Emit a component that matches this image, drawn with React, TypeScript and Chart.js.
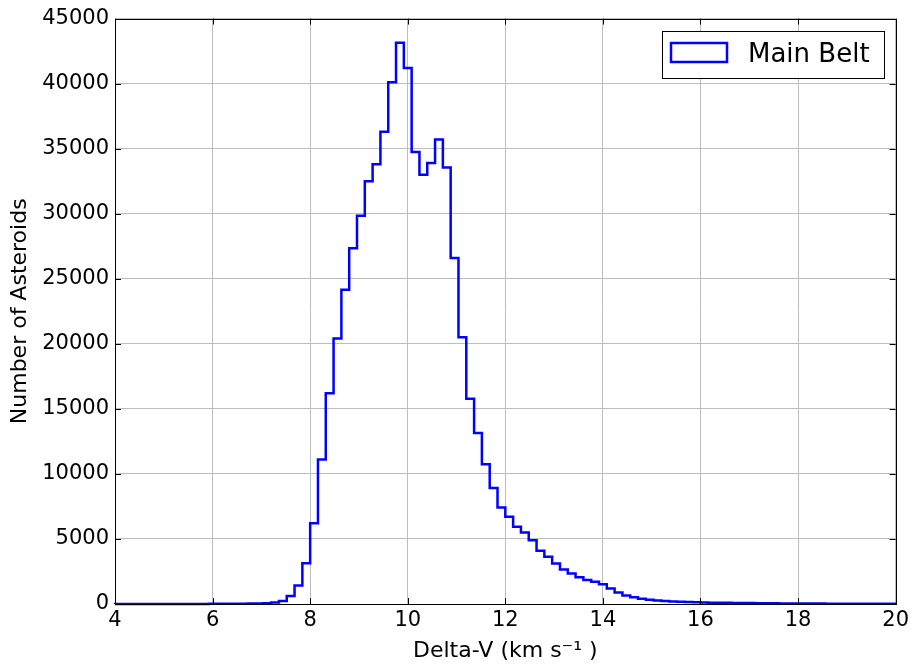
import { useEffect, useRef } from "react";
import { Chart, registerables } from "chart.js";

Chart.register(...registerables);

// Histogram range and per-bin counts (100 bins from 4 to 20 km/s)
const X_MIN = 4;
const X_MAX = 20;
const counts = [
  2, 2, 3, 3, 4, 4, 5, 5, 6, 7, 8,
  9, 10, 12, 15, 18, 22, 30,
  40, 60, 120, 230, 620, 1430, 3140, 6200, 11100, 16200,
  20400, 24150, 27350, 29850, 32500, 33800, 36300, 40100, 43150, 41200,
  34750, 33000, 33900, 35700, 33550, 26600, 20500, 15770, 13140, 10740,
  8920, 7410, 6700, 5930, 5500, 4910, 4090, 3630, 3120, 2660,
  2350, 2050, 1840, 1710, 1520, 1200, 880, 650, 520, 400,
  330, 270, 230, 200, 180, 160, 140, 120, 105, 95,
  88, 80, 74, 68, 62, 57, 52, 46, 42, 38,
  35, 32, 29, 27, 24, 22, 20, 18, 16, 14,
  12, 10,
];
const xTicks = [4, 6, 8, 10, 12, 14, 16, 18, 20];
const yTicks = [0, 5000, 10000, 15000, 20000, 25000, 30000, 35000, 40000, 45000];
const seriesLabel = "Main Belt";
const xTitle = "Delta-V (km s\u207B\u00B9 )";
const yTitle = "Number of Asteroids";

const FONT = "'DejaVu Sans', sans-serif";

export default function App() {
  const ref = useRef<HTMLCanvasElement | null>(null);

  useEffect(() => {
    if (!ref.current) return;
    const n = counts.length;
    const w = (X_MAX - X_MIN) / n;
    const pts: { x: number; y: number }[] = [{ x: X_MIN, y: 0 }];
    counts.forEach((c, i) => pts.push({ x: X_MIN + i * w, y: c }));
    pts.push({ x: X_MAX, y: counts[n - 1] });
    pts.push({ x: X_MAX, y: 0 });

    const framePlugin = {
      id: "frameAndLegend",
      afterDatasetsDraw(chart: any) {
        const { ctx, chartArea: a, scales } = chart;
        ctx.save();
        // inward ticks
        ctx.strokeStyle = "#000";
        ctx.lineWidth = 1;
        const tl = 6;
        ctx.beginPath();
        xTicks.forEach((t) => {
          const px = Math.round(scales.x.getPixelForValue(t)) + 0.5;
          ctx.moveTo(px, a.bottom);
          ctx.lineTo(px, a.bottom - tl);
          ctx.moveTo(px, a.top);
          ctx.lineTo(px, a.top + tl);
        });
        yTicks.forEach((t) => {
          const py = Math.round(scales.y.getPixelForValue(t)) + 0.5;
          ctx.moveTo(a.left, py);
          ctx.lineTo(a.left + tl, py);
          ctx.moveTo(a.right, py);
          ctx.lineTo(a.right - tl, py);
        });
        ctx.stroke();
        // frame
        ctx.strokeRect(
          Math.round(a.left) + 0.5,
          Math.round(a.top) + 0.5,
          Math.round(a.right - a.left),
          Math.round(a.bottom - a.top)
        );
        // legend
        const lx = 662, ly = 31, lw = 222, lh = 47;
        ctx.fillStyle = "#fff";
        ctx.fillRect(lx, ly, lw, lh);
        ctx.strokeStyle = "#000";
        ctx.lineWidth = 1;
        ctx.strokeRect(lx + 0.5, ly + 0.5, lw, lh);
        ctx.strokeStyle = "#0000ff";
        ctx.lineWidth = 2.5;
        ctx.strokeRect(671, 43, 56, 19);
        ctx.fillStyle = "#000";
        ctx.font = `26px ${FONT}`;
        ctx.textBaseline = "alphabetic";
        ctx.textAlign = "left";
        ctx.fillText(seriesLabel, 748, 62);
        ctx.restore();
      },
    };

    const chart = new Chart(ref.current, {
      type: "line",
      data: {
        datasets: [
          {
            label: seriesLabel,
            data: pts,
            borderColor: "#0000ff",
            borderWidth: 2.5,
            pointRadius: 0,
            fill: false,
            stepped: "before",
            tension: 0,
            clip: 6,
          } as any,
        ],
      },
      options: {
        responsive: false,
        animation: false,
        layout: { padding: { top: 17, right: 16, left: 0, bottom: 0 } },
        plugins: {
          legend: { display: false },
          tooltip: { enabled: false },
        },
        scales: {
          x: {
            type: "linear",
            min: X_MIN,
            max: X_MAX,
            afterBuildTicks: (s: any) => {
              s.ticks = xTicks.map((v) => ({ value: v }));
            },
            afterFit: (s: any) => {
              s.height = 65;
            },
            grid: { color: "#bdbdbd", lineWidth: 1, drawTicks: false },
            border: { display: false },
            ticks: {
              color: "#000",
              padding: 4,
              maxRotation: 0,
              autoSkip: false,
              font: { family: FONT, size: 21 },
              callback: (v: any) => String(v),
            },
            title: {
              display: true,
              text: xTitle,
              color: "#000",
              font: { family: FONT, size: 22 },
              padding: { top: 0, bottom: 5 },
            },
          },
          y: {
            type: "linear",
            min: 0,
            max: 45000,
            afterBuildTicks: (s: any) => {
              s.ticks = yTicks.map((v) => ({ value: v }));
            },
            afterFit: (s: any) => {
              s.width = 115;
            },
            grid: { color: "#bdbdbd", lineWidth: 1, drawTicks: false },
            border: { display: false },
            ticks: {
              color: "#000",
              padding: 6,
              autoSkip: false,
              font: { family: FONT, size: 21 },
              callback: (v: any) => String(v),
            },
            title: {
              display: true,
              text: yTitle,
              color: "#000",
              font: { family: FONT, size: 22 },
              padding: { top: 7, bottom: 0 },
            },
          },
        },
      },
      plugins: [framePlugin],
    });
    return () => chart.destroy();
  }, []);

  return (
    <div style={{ position: "fixed", left: 0, top: 0, width: 913, height: 669, background: "#fff" }}>
      <canvas ref={ref} width={913} height={669} style={{ display: "block" }} />
    </div>
  );
}
